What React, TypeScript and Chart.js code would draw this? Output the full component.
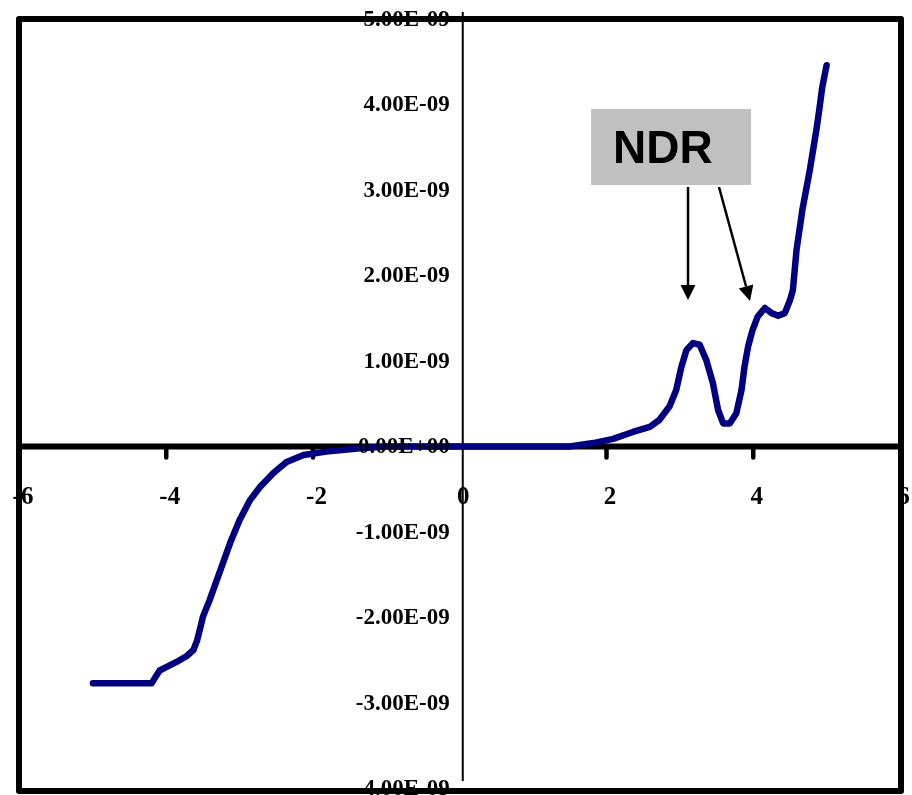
import React, { useEffect, useRef } from 'react';
import { Chart, registerables } from 'chart.js';

Chart.register(...registerables);

// Bias voltage (V)
const voltage = [
  -5.0, -4.6, -4.2, -4.15, -4.09, -4.0, -3.86, -3.72, -3.63, -3.58, -3.53, -3.5,
  -3.41, -3.31, -3.23, -3.13, -3.0, -2.86, -2.72, -2.54, -2.36, -2.13, -1.82, -1.36,
  -1.0, 0.0, 1.0, 1.5, 1.82, 2.09, 2.36, 2.59, 2.72, 2.86, 2.95, 3.02, 3.09, 3.18,
  3.27, 3.36, 3.45, 3.52, 3.59, 3.68, 3.77, 3.84, 3.88, 3.93, 3.99, 4.06, 4.16,
  4.25, 4.34, 4.43, 4.5, 4.54, 4.59, 4.67, 4.77, 4.86, 4.9, 4.94, 5.0,
];

// Current (A)
const current = [
  -2.77e-9, -2.77e-9, -2.77e-9, -2.7e-9, -2.62e-9, -2.58e-9, -2.52e-9, -2.45e-9,
  -2.38e-9, -2.27e-9, -2.1e-9, -1.99e-9, -1.8e-9, -1.56e-9, -1.37e-9, -1.13e-9,
  -0.86e-9, -0.63e-9, -0.47e-9, -0.31e-9, -0.18e-9, -0.1e-9, -0.06e-9, -0.02e-9,
  0, 0, 0, 0, 0.04e-9, 0.09e-9, 0.17e-9, 0.23e-9, 0.31e-9, 0.47e-9, 0.66e-9,
  0.93e-9, 1.13e-9, 1.21e-9, 1.19e-9, 1.01e-9, 0.74e-9, 0.43e-9, 0.27e-9, 0.27e-9,
  0.39e-9, 0.66e-9, 0.93e-9, 1.17e-9, 1.36e-9, 1.52e-9, 1.62e-9, 1.56e-9, 1.53e-9,
  1.56e-9, 1.71e-9, 1.83e-9, 2.3e-9, 2.77e-9, 3.23e-9, 3.7e-9, 3.94e-9, 4.2e-9,
  4.46e-9,
];

const xTickValues = [-6, -4, -2, 0, 2, 4, 6];
const xTickLabels = ['-6', '-4', '-2', '0', '2', '4', '6'];
const yTickValues = [5e-9, 4e-9, 3e-9, 2e-9, 1e-9, 0, -1e-9, -2e-9, -3e-9, -4e-9];
const yTickLabels = [
  '5.00E-09', '4.00E-09', '3.00E-09', '2.00E-09', '1.00E-09',
  '0.00E+00', '-1.00E-09', '-2.00E-09', '-3.00E-09', '-4.00E-09',
];

const annotationText = 'NDR';

// annotation placement in data coordinates
const ndrBox = { xMin: 1.789, xMax: 3.97, yMin: 3.058e-9, yMax: 3.947e-9 };
const ndrTextPos = { x: 2.089, y: 3.316e-9 };
const ndrArrows = [
  { x1: 3.111, y1: 3.035e-9, x2: 3.111, y2: 1.713e-9 },
  { x1: 3.533, y1: 3.035e-9, x2: 3.956, y2: 1.702e-9 },
];

const SERIF = '"Liberation Serif", "Times New Roman", serif';
const SANS = '"Liberation Sans", Arial, sans-serif';

const excelAxes = {
  id: 'excelAxes',
  beforeDatasetsDraw(chart: any) {
    const { ctx } = chart;
    const x = chart.scales.x;
    const y = chart.scales.y;
    const x0 = x.getPixelForValue(0);
    const y0 = y.getPixelForValue(0);
    ctx.save();
    ctx.strokeStyle = '#000';
    // vertical axis (thin)
    ctx.lineWidth = 2;
    ctx.beginPath();
    ctx.moveTo(x0 + 3, y.top - 7);
    ctx.lineTo(x0 + 3, y.bottom - 7.5);
    ctx.stroke();
    // horizontal axis (thick)
    ctx.lineWidth = 6;
    ctx.beginPath();
    ctx.moveTo(x.left, y0);
    ctx.lineTo(x.right, y0);
    ctx.stroke();
    // tick marks
    ctx.lineWidth = 4.5;
    ctx.lineCap = 'round';
    for (const v of xTickValues) {
      if (v === 0 || v === xTickValues[0] || v === xTickValues[xTickValues.length - 1]) continue;
      const px = x.getPixelForValue(v);
      ctx.beginPath();
      ctx.moveTo(px, y0 + 3);
      ctx.lineTo(px, y0 + 11);
      ctx.stroke();
    }
    // plot border
    ctx.lineCap = 'butt';
    ctx.lineJoin = 'round';
    ctx.lineWidth = 6;
    ctx.strokeRect(x.left - 0.5, y.top, x.right - x.left + 1.5, y.bottom - y.top + 2.5);
    ctx.restore();
  },
  afterDraw(chart: any) {
    const { ctx } = chart;
    const x = chart.scales.x;
    const y = chart.scales.y;
    const x0 = x.getPixelForValue(0);
    const y0 = y.getPixelForValue(0);
    ctx.save();
    ctx.fillStyle = '#000';
    // y labels
    ctx.font = `bold 23px ${SERIF}`;
    ctx.textAlign = 'right';
    ctx.textBaseline = 'middle';
    yTickValues.forEach((v, i) => {
      ctx.fillText(yTickLabels[i], x0 - 10, y.getPixelForValue(v) + 1);
    });
    // x labels
    ctx.font = `bold 25px ${SERIF}`;
    ctx.textAlign = 'center';
    xTickValues.forEach((v, i) => {
      ctx.fillText(xTickLabels[i], x.getPixelForValue(v) + 3.5, y0 + 51);
    });

    // NDR annotation box
    const bx1 = x.getPixelForValue(ndrBox.xMin);
    const bx2 = x.getPixelForValue(ndrBox.xMax);
    const by1 = y.getPixelForValue(ndrBox.yMax);
    const by2 = y.getPixelForValue(ndrBox.yMin);
    ctx.fillStyle = '#c0c0c0';
    ctx.fillRect(bx1, by1, bx2 - bx1, by2 - by1);
    ctx.fillStyle = '#000';
    ctx.font = `bold 46px ${SANS}`;
    ctx.textAlign = 'left';
    ctx.textBaseline = 'alphabetic';
    ctx.fillText(annotationText, x.getPixelForValue(ndrTextPos.x), y.getPixelForValue(ndrTextPos.y));

    // arrows
    ctx.strokeStyle = '#000';
    ctx.lineWidth = 2.5;
    for (const a of ndrArrows) {
      const sx = x.getPixelForValue(a.x1);
      const sy = y.getPixelForValue(a.y1);
      const ex = x.getPixelForValue(a.x2);
      const ey = y.getPixelForValue(a.y2);
      const ang = Math.atan2(ey - sy, ex - sx);
      const len = 15;
      const hw = 7.5;
      const bxp = ex - len * Math.cos(ang);
      const byp = ey - len * Math.sin(ang);
      ctx.beginPath();
      ctx.moveTo(sx, sy);
      ctx.lineTo(bxp, byp);
      ctx.stroke();
      ctx.beginPath();
      ctx.moveTo(ex, ey);
      ctx.lineTo(bxp + hw * Math.sin(ang), byp - hw * Math.cos(ang));
      ctx.lineTo(bxp - hw * Math.sin(ang), byp + hw * Math.cos(ang));
      ctx.closePath();
      ctx.fill();
    }
    ctx.restore();
  },
};

export default function App() {
  const canvasRef = useRef<HTMLCanvasElement | null>(null);

  useEffect(() => {
    document.body.style.margin = '0';
    const canvas = canvasRef.current;
    if (!canvas) return;
    const chart = new Chart(canvas, {
      type: 'scatter',
      data: {
        datasets: [
          {
            data: voltage.map((v, i) => ({ x: v, y: current[i] })),
            showLine: true,
            borderColor: '#000080',
            backgroundColor: '#000080',
            borderWidth: 6.5,
            pointRadius: 0,
            tension: 0,
            borderCapStyle: 'round',
            borderJoinStyle: 'round',
          },
        ],
      },
      options: {
        responsive: false,
        animation: false,
        layout: { padding: { left: 19.5, right: 12, top: 19, bottom: 6.5 } },
        plugins: { legend: { display: false }, tooltip: { enabled: false } },
        scales: {
          x: { type: 'linear', min: -6, max: 6, display: false },
          y: { type: 'linear', min: -4e-9, max: 5e-9, display: false },
        },
      },
      plugins: [excelAxes],
    } as any);
    return () => chart.destroy();
  }, []);

  return (
    <div style={{ position: 'fixed', left: 0, top: 0, width: 912, height: 795, background: '#fff' }}>
      <canvas ref={canvasRef} width={912} height={795} style={{ display: 'block' }} />
    </div>
  );
}
